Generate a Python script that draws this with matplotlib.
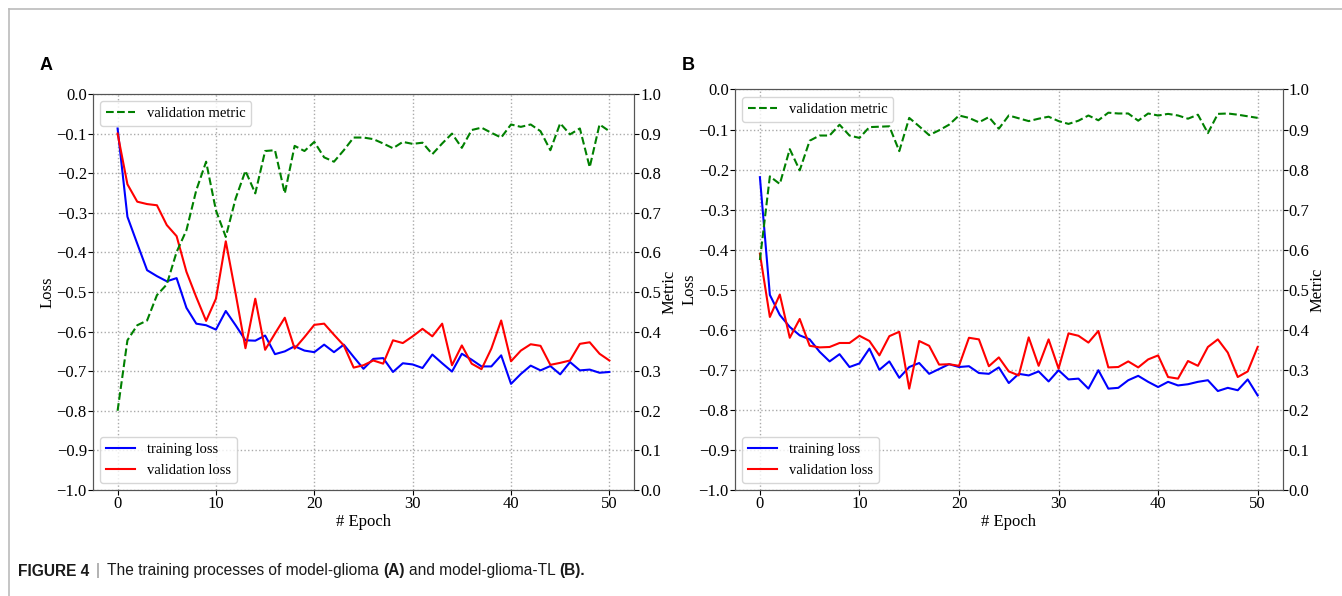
import matplotlib
matplotlib.use('Agg')
import matplotlib.pyplot as plt
from matplotlib.lines import Line2D
import numpy as np

# (loss on left axis, metric on right axis)
epochs = np.arange(51)

train_loss_a = [-0.087, -0.31, -0.378, -0.445, -0.46, -0.473, -0.465, -0.54, -0.58, -0.584,
                -0.595, -0.548, -0.584, -0.622, -0.623, -0.61, -0.657, -0.65, -0.637, -0.648,
                -0.652, -0.633, -0.652, -0.633, -0.664, -0.694, -0.669, -0.667, -0.702, -0.68,
                -0.683, -0.692, -0.658, -0.68, -0.701, -0.656, -0.671, -0.688, -0.688, -0.66,
                -0.732, -0.707, -0.686, -0.698, -0.687, -0.708, -0.677, -0.698, -0.696, -0.704,
                -0.702]
val_loss_a = [-0.1, -0.228, -0.272, -0.278, -0.281, -0.331, -0.359, -0.449, -0.513, -0.573,
              -0.517, -0.372, -0.504, -0.642, -0.517, -0.646, -0.605, -0.565, -0.643, -0.614,
              -0.583, -0.58, -0.608, -0.635, -0.691, -0.685, -0.673, -0.681, -0.622, -0.629,
              -0.612, -0.593, -0.612, -0.58, -0.685, -0.635, -0.681, -0.695, -0.643, -0.572,
              -0.675, -0.648, -0.632, -0.636, -0.684, -0.679, -0.673, -0.631, -0.627, -0.656,
              -0.673]
metric_a = [0.2, 0.378, 0.416, 0.428, 0.492, 0.519, 0.601, 0.656, 0.757, 0.829,
            0.706, 0.639, 0.736, 0.806, 0.749, 0.856, 0.858, 0.749, 0.869, 0.856,
            0.879, 0.84, 0.829, 0.858, 0.89, 0.89, 0.886, 0.875, 0.863, 0.879,
            0.874, 0.877, 0.848, 0.875, 0.9, 0.864, 0.909, 0.915, 0.902, 0.89,
            0.923, 0.917, 0.923, 0.906, 0.858, 0.926, 0.898, 0.913, 0.815, 0.923,
            0.906]

train_loss_b = [-0.219, -0.513, -0.563, -0.593, -0.614, -0.624, -0.655, -0.679, -0.661, -0.693,
                -0.684, -0.647, -0.7, -0.679, -0.72, -0.693, -0.683, -0.71, -0.698, -0.686,
                -0.693, -0.691, -0.708, -0.71, -0.694, -0.733, -0.71, -0.714, -0.704, -0.729,
                -0.701, -0.724, -0.722, -0.747, -0.701, -0.747, -0.745, -0.726, -0.715, -0.73,
                -0.743, -0.73, -0.739, -0.736, -0.73, -0.726, -0.753, -0.745, -0.751, -0.724,
                -0.764]
val_loss_b = [-0.41, -0.568, -0.512, -0.62, -0.573, -0.64, -0.644, -0.643, -0.633, -0.633,
              -0.615, -0.628, -0.664, -0.616, -0.605, -0.747, -0.628, -0.64, -0.687, -0.686,
              -0.69, -0.62, -0.624, -0.691, -0.669, -0.704, -0.714, -0.619, -0.69, -0.624,
              -0.697, -0.609, -0.615, -0.632, -0.603, -0.694, -0.693, -0.679, -0.694, -0.674,
              -0.664, -0.718, -0.722, -0.678, -0.69, -0.643, -0.624, -0.657, -0.718, -0.704,
              -0.643]
metric_b = [0.574, 0.783, 0.764, 0.851, 0.798, 0.872, 0.885, 0.885, 0.912, 0.885,
            0.879, 0.906, 0.907, 0.908, 0.846, 0.929, 0.908, 0.886, 0.898, 0.912,
            0.935, 0.929, 0.918, 0.931, 0.902, 0.935, 0.928, 0.921, 0.927, 0.932,
            0.921, 0.914, 0.922, 0.935, 0.923, 0.942, 0.94, 0.94, 0.922, 0.94,
            0.935, 0.939, 0.935, 0.927, 0.937, 0.891, 0.939, 0.94, 0.937, 0.933,
            0.929]

caption = [('FIGURE 4', 'bold'), ('|', 'normal'),
           ('The training processes of model-glioma', 'normal'), ('(A)', 'bold'),
           ('and model-glioma-TL', 'normal'), ('(B).', 'bold')]

panels = [('A', train_loss_a, val_loss_a, metric_a, [0.0693, 0.1779, 0.4031, 0.6644]),
          ('B', train_loss_b, val_loss_b, metric_b, [0.5477, 0.1779, 0.4080, 0.6720])]

serif = 'Liberation Serif'
fig = plt.figure(figsize=(13.42, 5.96), dpi=100)

for letter, tl, vl, met, rect in panels:
    ax = fig.add_axes(rect)
    ax.plot(epochs, tl, 'b', lw=1.5, label='training loss')
    ax.plot(epochs, vl, 'r', lw=1.5, label='validation loss')
    ax.set_xlim(-2.5, 52.5)
    ax.set_ylim(-1.0, 0.0)
    ax.set_yticks(np.arange(-1.0, 0.01, 0.1))
    ax.set_xticks([0, 10, 20, 30, 40, 50])
    ax.grid(True, linestyle=':', color='#aaaaaa', lw=1)
    ax.set_xlabel('# Epoch', fontfamily=serif, fontsize=12, labelpad=1)
    ax.set_ylabel('Loss', fontfamily=serif, fontsize=12, labelpad=1)
    ax.legend(loc='lower left', prop={'family': serif, 'size': 10.5})

    ax2 = ax.twinx()
    ax2.plot(epochs, met, 'g--', lw=1.5, label='validation metric')
    ax2.set_ylim(0.0, 1.0)
    ax2.set_yticks(np.arange(0.0, 1.01, 0.1))
    ax2.set_ylabel('Metric', fontfamily=serif, fontsize=12, labelpad=0)
    ax2.legend(loc='upper left', prop={'family': serif, 'size': 10.5})

    for a in (ax, ax2):
        for lab in a.get_xticklabels() + a.get_yticklabels():
            lab.set_fontfamily(serif)
            lab.set_fontsize(12)
        a.tick_params(length=3.5, pad=1)
        for s in a.spines.values():
            s.set_color('#555555')

    fig.text(rect[0] - 0.040, 0.882, letter, fontfamily='Liberation Sans',
             fontweight='bold', fontsize=13)

# frame lines of the figure panel
fig.add_artist(Line2D([9 / 1342, 1.0], [1 - 9 / 596, 1 - 9 / 596], color='#bbbbbb', lw=1.2))
fig.add_artist(Line2D([9 / 1342, 9 / 1342], [0.0, 1 - 9 / 596], color='#bbbbbb', lw=1.2))

# caption, built piece by piece so the bold parts line up
renderer = fig.canvas.get_renderer()
cap_size = 11.2
probe = fig.text(0, 0, 'x x', fontfamily='Liberation Sans', fontsize=cap_size)
w1 = probe.get_window_extent(renderer).width
probe.set_text('xx')
space = w1 - probe.get_window_extent(renderer).width
probe.remove()

x = 18.0
for txt, weight in caption:
    t = fig.text(x / 1342, 1 - 571 / 596, txt, fontfamily='Liberation Sans',
                 fontweight=weight, fontsize=cap_size, va='center',
                 color='#1a1a1a' if txt != '|' else '#888888')
    x += t.get_window_extent(renderer).width + (space * 1.6 if txt in ('FIGURE 4', '|') else space)

fig.savefig('out.png', dpi=100)
